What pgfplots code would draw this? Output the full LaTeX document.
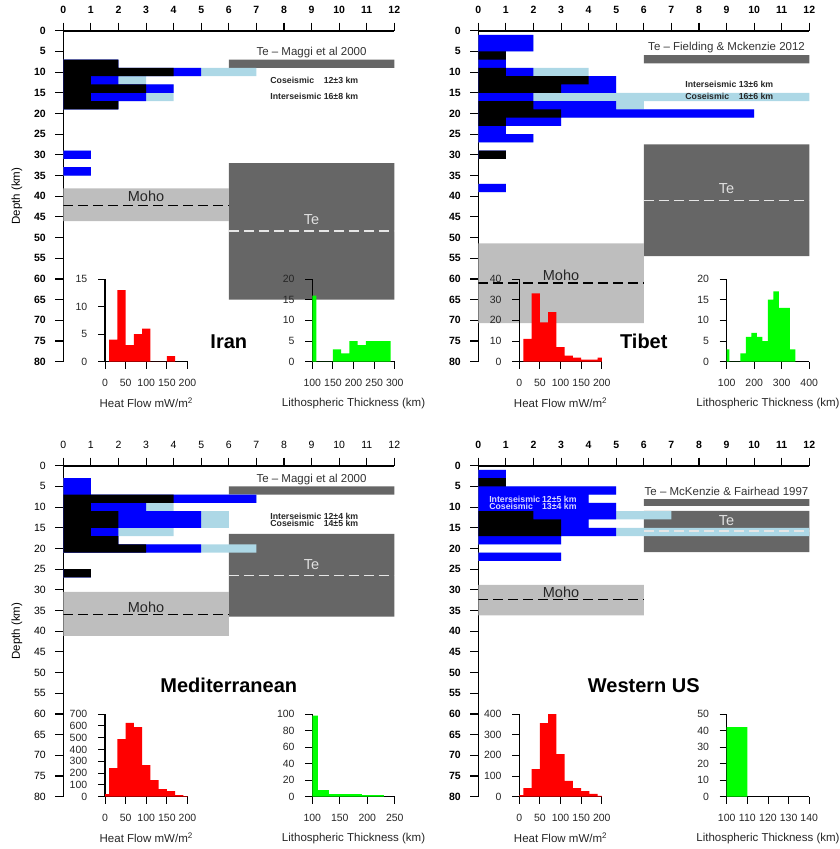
\documentclass[border=0pt]{standalone}
\usepackage{pgfplots}
\usepackage{pgfplotstable}
\pgfplotsset{compat=1.18}
\usepackage{fontspec}
\setmainfont{Liberation Sans}
\definecolor{tegray}{HTML}{666666}
\definecolor{mohogray}{HTML}{BEBEBE}
\definecolor{lblue}{HTML}{ADD8E6}
\definecolor{hgreen}{HTML}{00FF00}
\definecolor{tetext}{HTML}{E0E0E0}
\definecolor{tedash}{HTML}{E6E6E6}
\definecolor{reftext}{HTML}{333333}
\definecolor{lav}{HTML}{D8D8FF}
\newcommand{\fs}[1]{\fontsize{#1}{#1}\selectfont}
\tikzset{smalltxt/.style={font=\fs{8.75}\bfseries, inner sep=0pt}}

\pgfplotsset{
  mainax/.style={
    scale only axis, width=331pt, height=331pt,
    xmin=0, xmax=12, ymin=0, ymax=80, y dir=reverse, enlargelimits=false,
    axis x line=top, axis y line=left,
    axis line style={-, line width=1.6pt, black},
    every outer x axis line/.append style={-},
    every outer y axis line/.append style={-},
    xtick={0,...,12}, ytick={0,5,...,80},
    tick align=outside, major tick length=8pt,
    tick style={line width=1.1pt, black},
    xticklabel shift=5.3pt, yticklabel shift=6pt,
    clip mode=individual,
    /pgf/number format/assume math mode=true,
    ticklabel style={font=\fs{10.5}\bfseries},
    ylabel style={font=\fs{11.5}, at={(axis description cs:-0.14,0.5)}, anchor=center},
  },
  inset/.style={
    scale only axis, width=82.5pt, height=82.7pt, anchor=south west,
    ymin=0, enlargelimits=false,
    axis x line=bottom, axis y line=left,
    axis line style={-, line width=1.2pt, black},
    every outer x axis line/.append style={-},
    every outer y axis line/.append style={-},
    tick align=outside, major tick length=7pt,
    tick style={line width=0.9pt, black},
    xticklabel shift=6.8pt, yticklabel shift=7.2pt,
    /pgf/number format/assume math mode=true,
    ticklabel style={font=\fs{10.5}, text=black!85},
    xlabel style={font=\fs{11.5}, text=black!85, at={(axis description cs:0.5,-0.5)}, anchor=center},
    clip mode=individual,
  },
  bar/.style={xbar, bar shift=0pt, bar width=2, draw=none},
}
\newcommand{\rect}[5]{\addplot[fill=#1, draw=none] coordinates {(#2,#4) (#3,#4) (#3,#5) (#2,#5) (#2,#4)};}
\newcommand{\depthbars}[1]{%
  \addplot[bar, fill=lblue] table[x expr=\thisrow{k}+\thisrow{b}+\thisrow{lb}, y=d] {#1};
  \addplot[bar, fill=blue] table[x expr=\thisrow{k}+\thisrow{b}, y=d] {#1};
  \addplot[bar, fill=black] table[x=k, y=d] {#1};
}
\newcommand{\mdash}[4]{\addplot[#1, line width=1.3pt, dash pattern=on 10pt off 5pt] coordinates {(#2,#4) (#3,#4)};}

% depth histograms: d = bin centre (km), k = black, b = blue, lb = light blue counts
\pgfplotstableread{
d k b lb
8 2 0 0
10 4 1 2
12 1 1 1
14 3 1 0
16 1 2 1
18 2 0 0
30 0 1 0
34 0 1 0
}\iranbars
\pgfplotstableread{
d k b lb
2 0 2 0
4 0 2 0
6 1 0 0
8 0 1 0
10 1 1 2
12 4 1 0
14 3 2 0
16 0 2 12
18 2 3 1
20 3 7 0
22 1 2 0
24 0 1 0
26 0 2 0
30 1 0 0
38 0 1 0
}\tibetbars
\pgfplotstableread{
d k b lb
4 0 1 0
6 0 1 0
8 4 3 0
10 1 2 1
12 2 3 1
14 2 3 1
16 1 1 2
18 2 0 0
20 3 2 2
26 1 0 0
}\medbars
\pgfplotstableread{
d k b lb
2 0 1 0
4 1 0 0
6 0 5 0
8 0 4 0
10 0 5 0
12 2 3 2
14 3 1 0
16 3 2 8
18 0 3 0
22 0 3 0
}\wusbars

\begin{document}
\begin{tikzpicture}
\path[use as bounding box] (0pt,0pt) rectangle (840pt,-849pt);

% ================= IRAN =================
\begin{axis}[mainax, at={(63.3pt,-30.7pt)}, anchor=north west, ylabel={Depth (km)}]
\rect{tegray}{6}{12}{7}{9}
\rect{tegray}{6}{12}{32}{65}
\rect{mohogray}{0}{6}{38.1}{46}
\depthbars{\iranbars}
\mdash{black}{0}{6}{42.2}
\mdash{tedash}{6}{12}{48.4}
\node[font=\fs{11.5}, text=reftext, anchor=base] at (axis cs:9,5.9) {Te – Maggi et al 2000};
\node[smalltxt, text=black!85, anchor=base west] at (axis cs:7.5,12.84) {Coseismic};
\node[smalltxt, text=black!85, anchor=base east] at (axis cs:10.7,12.84) {12±3 km};
\node[smalltxt, text=black!85, anchor=base west] at (axis cs:7.5,16.74) {Interseismic};
\node[smalltxt, text=black!85, anchor=base east] at (axis cs:10.7,16.74) {16±8 km};
\node[font=\fs{14.5}, text=black!85, anchor=base] at (axis cs:3,41.4) {Moho};
\node[font=\fs{14.5}, text=tetext, anchor=base] at (axis cs:9,46.8) {Te};
\node[font=\fs{20}\bfseries, anchor=base] at (axis cs:6,76.8) {Iran};
\end{axis}
\begin{axis}[inset, at={(105pt,-361.7pt)}, xmin=0, xmax=200, ymax=15, xtick={0,50,...,200}, ytick={0,5,10,15}, xlabel={Heat Flow mW/m\textsuperscript{2}}]
\addplot[const plot, fill=red, draw=none] coordinates {(10,4) (30,13) (50,3) (70,5) (90,6) (110,0) (150,1) (170,0)} \closedcycle;
\end{axis}
\begin{axis}[inset, at={(312.3pt,-361.7pt)}, xmin=100, xmax=300, ymax=20, xtick={100,150,...,300}, ytick={0,5,...,20}, xlabel={Lithospheric Thickness (km)}]
\addplot[const plot, fill=hgreen, draw=none] coordinates {(100,16) (110,0) (150,3) (170,2) (190,5) (210,4) (230,5) (290,0)} \closedcycle;
\end{axis}

% ================= TIBET =================
\begin{axis}[mainax, at={(478.3pt,-30.7pt)}, anchor=north west]
\rect{tegray}{6}{12}{5.9}{7.9}
\rect{tegray}{6}{12}{27.5}{54.5}
\rect{mohogray}{0}{6}{51.4}{70.7}
\depthbars{\tibetbars}
\mdash{black}{0}{6}{61}
\mdash{tedash}{6}{12}{41}
\node[font=\fs{11.5}, text=reftext, anchor=base] at (axis cs:9,4.84) {Te – Fielding \& Mckenzie 2012};
\node[smalltxt, text=black!85, anchor=base west] at (axis cs:7.5,13.82) {Interseismic};
\node[smalltxt, text=black!85, anchor=base east] at (axis cs:10.7,13.82) {13±6 km};
\node[smalltxt, text=black!85, anchor=base west] at (axis cs:7.5,16.72) {Coseismic};
\node[smalltxt, text=black!85, anchor=base east] at (axis cs:10.7,16.72) {16±6 km};
\node[font=\fs{14.5}, text=black!85, anchor=base] at (axis cs:3,60.46) {Moho};
\node[font=\fs{14.5}, text=tetext, anchor=base] at (axis cs:9,39.33) {Te};
\node[font=\fs{20}\bfseries, anchor=base] at (axis cs:6,76.8) {Tibet};
\end{axis}
\begin{axis}[inset, at={(519.3pt,-361.7pt)}, xmin=0, xmax=200, ymax=40, xtick={0,50,...,200}, ytick={0,10,...,40}, xlabel={Heat Flow mW/m\textsuperscript{2}}]
\addplot[const plot, fill=red, draw=none] coordinates {(10,11) (30,33) (50,19) (70,24) (90,7) (110,3) (130,2) (150,1) (170,1) (190,2) (200,0)} \closedcycle;
\end{axis}
\begin{axis}[inset, at={(726.7pt,-361.7pt)}, xmin=100, xmax=400, ymax=20, xtick={100,200,300,400}, ytick={0,5,...,20}, xlabel={Lithospheric Thickness (km)}]
\addplot[const plot, fill=hgreen, draw=none] coordinates {(100,3) (110,0) (150,2) (170,6) (190,7) (210,6) (230,5) (250,15) (270,17) (290,13) (330,3) (350,0)} \closedcycle;
\end{axis}

% ================= MEDITERRANEAN =================
\begin{axis}[mainax, at={(63.3pt,-465.7pt)}, anchor=north west, ylabel={Depth (km)}, ticklabel style={font=\fs{10.5}}]
\rect{tegray}{6}{12}{5}{7}
\rect{tegray}{6}{12}{16.5}{36.5}
\rect{mohogray}{0}{6}{30.5}{41.1}
\depthbars{\medbars}
\mdash{black}{0}{6}{35.9}
\mdash{tedash}{6}{12}{26.5}
\node[font=\fs{11.5}, text=reftext, anchor=base] at (axis cs:9,4.04) {Te – Maggi et al 2000};
\node[smalltxt, text=black!85, anchor=base west] at (axis cs:7.5,12.89) {Interseismic};
\node[smalltxt, text=black!85, anchor=base east] at (axis cs:10.7,12.89) {12±4 km};
\node[smalltxt, text=black!85, anchor=base west] at (axis cs:7.5,14.75) {Coseismic};
\node[smalltxt, text=black!85, anchor=base east] at (axis cs:10.7,14.75) {14±5 km};
\node[font=\fs{14.5}, text=black!85, anchor=base] at (axis cs:3,35.4) {Moho};
\node[font=\fs{14.5}, text=tetext, anchor=base] at (axis cs:9,25.0) {Te};
\node[font=\fs{20}\bfseries, anchor=base] at (axis cs:6,54.9) {Mediterranean};
\end{axis}
\begin{axis}[inset, at={(105pt,-796.7pt)}, xmin=0, xmax=200, ymax=700, xtick={0,50,...,200}, ytick={0,100,...,700}, xlabel={Heat Flow mW/m\textsuperscript{2}}]
\addplot[const plot, fill=red, draw=none] coordinates {(0,22) (10,243) (30,488) (50,624) (70,590) (90,268) (110,141) (130,65) (150,48) (170,14) (190,6) (200,0)} \closedcycle;
\end{axis}
\begin{axis}[inset, at={(312.3pt,-796.7pt)}, xmin=100, xmax=250, ymax=100, xtick={100,150,200,250}, ytick={0,20,...,100}, xlabel={Lithospheric Thickness (km)}]
\addplot[const plot, fill=hgreen, draw=none] coordinates {(100,98) (110,8) (130,3) (190,2) (230,0)} \closedcycle;
\end{axis}

% ================= WESTERN US =================
\begin{axis}[mainax, at={(478.3pt,-465.7pt)}, anchor=north west]
\rect{tegray}{6}{12}{8.1}{9.7}
\rect{tegray}{6}{12}{10.9}{20.9}
\rect{mohogray}{0}{6}{28.8}{36.2}
\depthbars{\wusbars}
\mdash{black}{0}{6}{32.4}
\mdash{tedash}{6}{12}{15.8}
\node[font=\fs{11.5}, text=reftext, anchor=base] at (axis cs:9,7.1) {Te – McKenzie \& Fairhead 1997};
\node[smalltxt, text=lav, anchor=base west] at (axis cs:0.39,8.78) {Interseismic};
\node[smalltxt, text=lav, anchor=base east] at (axis cs:3.57,8.78) {12±5 km};
\node[smalltxt, text=lav, anchor=base west] at (axis cs:0.39,10.64) {Coseismic};
\node[smalltxt, text=lav, anchor=base east] at (axis cs:3.57,10.64) {13±4 km};
\node[font=\fs{14.5}, text=black!85, anchor=base] at (axis cs:3,31.87) {Moho};
\node[font=\fs{14.5}, text=tetext, anchor=base] at (axis cs:9,14.37) {Te};
\node[font=\fs{20}\bfseries, anchor=base] at (axis cs:6,54.9) {Western US};
\end{axis}
\begin{axis}[inset, at={(519.3pt,-796.7pt)}, xmin=0, xmax=200, ymax=400, xtick={0,50,...,200}, ytick={0,100,...,400}, xlabel={Heat Flow mW/m\textsuperscript{2}}]
\addplot[const plot, fill=red, draw=none] coordinates {(0,8) (10,42) (30,134) (50,356) (70,400) (90,206) (110,76) (130,42) (150,27) (170,14) (190,4) (200,0)} \closedcycle;
\end{axis}
\begin{axis}[inset, at={(726.7pt,-796.7pt)}, xmin=100, xmax=140, ymax=50, xtick={100,110,...,140}, ytick={0,10,...,50}, xlabel={Lithospheric Thickness (km)}]
\addplot[const plot, fill=hgreen, draw=none] coordinates {(100,42) (110,0)} \closedcycle;
\end{axis}
\end{tikzpicture}
\end{document}
